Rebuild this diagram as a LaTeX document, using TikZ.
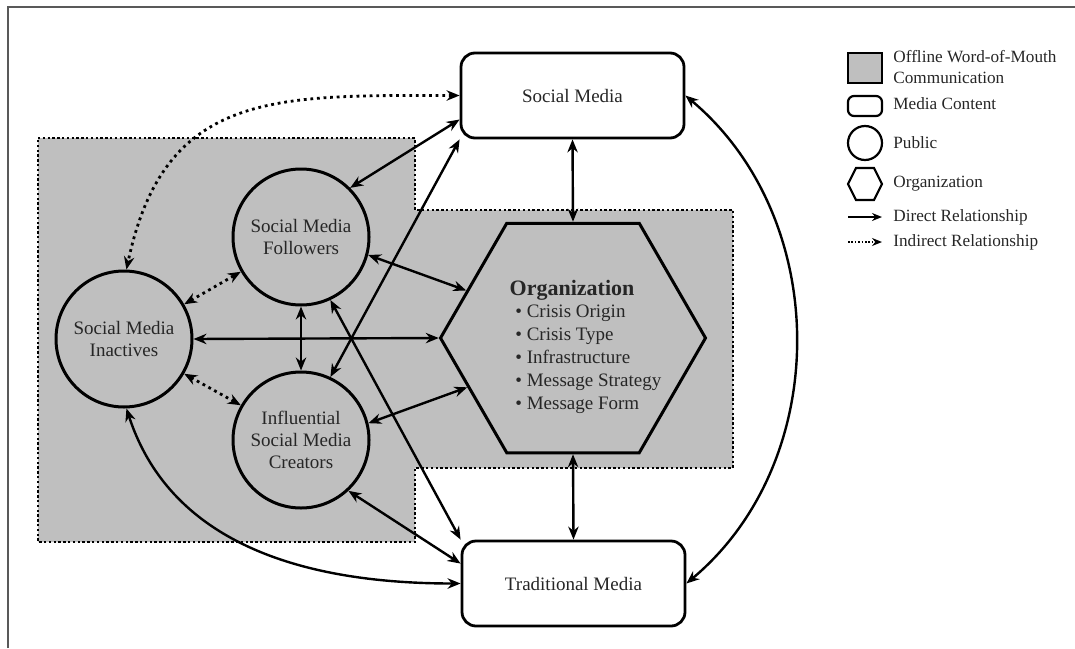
\documentclass[tikz,border=0pt]{standalone}
\usepackage{fontspec}
\setmainfont{Liberation Serif}
\usepackage{xcolor}
\usetikzlibrary{arrows.meta, shapes.geometric, positioning}

\tikzset{
  tip/.tip={Stealth[length=6.5pt, width=5.2pt]},
  media/.style={draw, line width=1.4pt, rounded corners=7pt, fill=white, minimum width=111.5pt, minimum height=42.5pt, font=\fontsize{9.5}{11}\selectfont, text=black!85},
  public/.style={draw, circle, line width=1.5pt, minimum size=68pt, inner sep=0pt, align=center, font=\fontsize{9.5}{11}\selectfont, text=black!85},
  orga/.style={draw, regular polygon, regular polygon sides=6, line width=1.5pt, minimum size=132.5pt, inner sep=0pt},
  direct/.style={line width=1.2pt, tip-tip},
  indirect/.style={line width=1.4pt, dash pattern=on 1.4pt off 1.9pt, tip-tip},
  wom/.style={fill=gray!50, draw=black, line width=1.2pt, dash pattern=on 1.2pt off 1.2pt},
  legtext/.style={anchor=west, inner sep=0pt, align=left, font=\fontsize{8.6}{10.5}\selectfont, text=black!85}
}

\begin{document}
\begin{tikzpicture}[x=0.5pt, y=-0.5pt]
        \useasboundingbox (0,0) rectangle (1075,648);
        % Frame
        \draw[gray!70!black, line width=0.6pt] (8,648) -- (8,7) -- (1075,7);

        % Offline word-of-mouth area
        \path[wom] (38,138) -- (415,138) -- (415,210) -- (733,210) -- (733,468) -- (415,468) -- (415,542) -- (38,542) -- cycle;

        % Media content
        \node[media] (sm) at (572.5,95.5) {Social Media};
        \node[media] (tm) at (573.5,583.5) {Traditional Media};

        % Organization
        \node[orga, fill=gray!50] (org) at (573,338) {};
        \node[inner sep=0pt, text=black!85, font=\bfseries\fontsize{11}{13}\selectfont] (orgtitle) at (572,290) {Organization};
        \node[anchor=base west, inner sep=0pt, text=black!85, font=\fontsize{9.5}{11.5}\selectfont] (orglist) at (515,317) {%
          \begin{tabular}[t]{@{}l@{}}
            \textbullet\ Crisis Origin\\
            \textbullet\ Crisis Type\\
            \textbullet\ Infrastructure\\
            \textbullet\ Message Strategy\\
            \textbullet\ Message Form
          \end{tabular}};

        % Public
        \node[public] (fol) at (301,237) {Social Media\\Followers};
        \node[public] (ina) at (124,339) {Social Media\\Inactives};
        \node[public] (cre) at (301,440) {Influential\\Social Media\\Creators};

        % Relationships
        \draw[indirect] (sm.west) to[out=180, in=78, looseness=1.25] (ina.88);
        \draw[indirect] (ina.30) -- (fol.210);
        \draw[indirect] (ina.-30) -- (cre.150);
        \draw[direct] (sm.192) -- (fol.45);
        \draw[direct] (sm.south west) -- (cre.65);
        \draw[direct] (sm.south) -- (org.north);
        \draw[direct] (sm.east) to[out=-40, in=40] (tm.east);
        \draw[direct] (fol.-15) -- (org.156);
        \draw[direct] (fol.south) -- (cre.north);
        \draw[direct] (fol.-65) -- (tm.north west);
        \draw[direct] (ina.east) -- (org.west);
        \draw[direct] (ina.-88) to[out=-72, in=180] (tm.west);
        \draw[direct] (cre.14) -- (org.205);
        \draw[direct] (cre.-47) -- (tm.170);
        \draw[direct] (org.south) -- (tm.north);

        % Legend
        \draw[fill=gray!50, line width=1.1pt] (848,53) rectangle (882,83);
        \node[legtext] (legwom) at (893,67) {Offline Word-of-Mouth\\Communication};
        \draw[line width=1.1pt, rounded corners=3pt] (848,96) rectangle (882,116);
        \node[legtext] (legmedia) at (893,104) {Media Content};
        \draw[line width=1.1pt] (865,143) circle (17);
        \node[legtext] (legpublic) at (893,143) {Public};
        \draw[line width=1.1pt] (848,184) -- (856,168) -- (874,168) -- (882,184) -- (874,200) -- (856,200) -- cycle;
        \node[legtext] (legorg) at (893,184) {Organization};
        \coordinate (ld1) at (848,217);
        \coordinate (ld2) at (882,217);
        \draw[line width=1.1pt, -{Stealth[length=5pt, width=4pt]}] (ld1) -- (ld2);
        \node[legtext] (legdirect) at (893,217) {Direct Relationship};
        \coordinate (li1) at (848,242);
        \coordinate (li2) at (882,242);
        \draw[line width=0.8pt, dash pattern=on 0.8pt off 0.9pt, -{Stealth[length=5pt, width=4pt]}] (li1) -- (li2);
        \node[legtext] (legindirect) at (893,242) {Indirect Relationship};

    \end{tikzpicture}
\end{document}
